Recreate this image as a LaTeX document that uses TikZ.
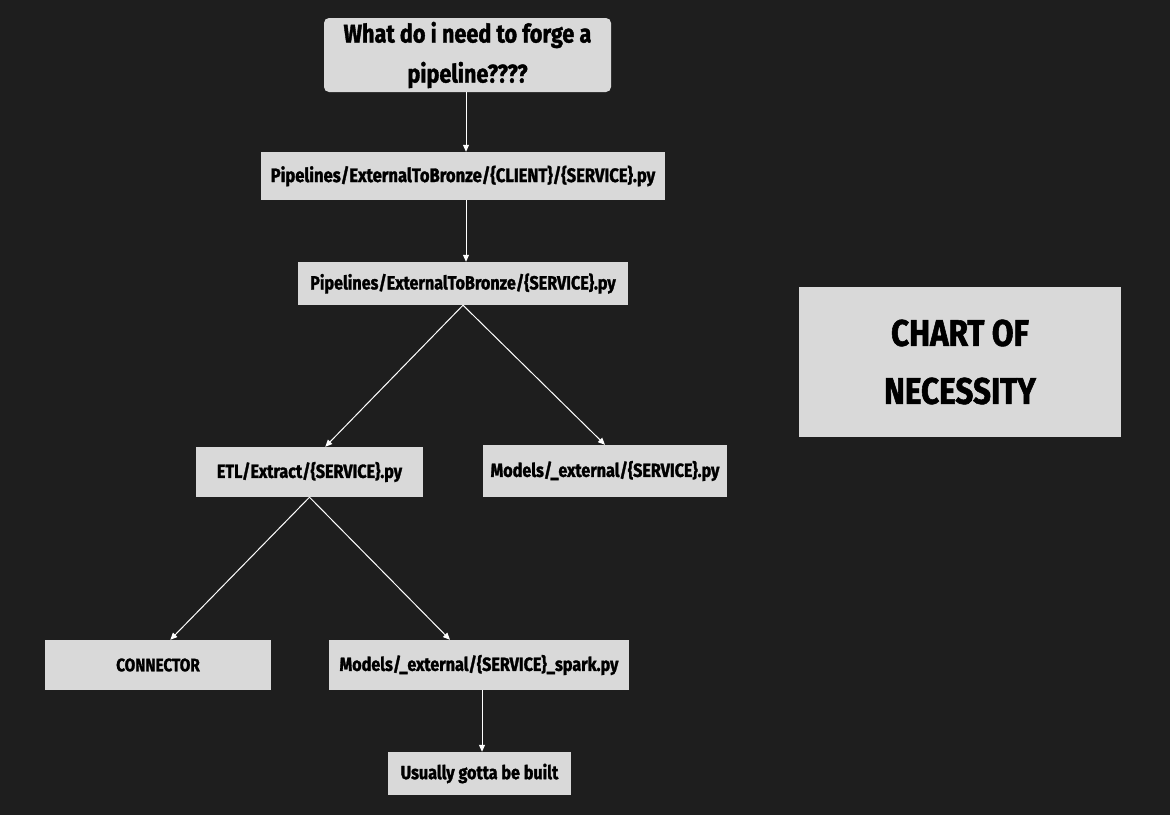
\documentclass[tikz,border=0pt]{standalone}
\usepackage{fontspec}
\setmainfont{Fira Sans}[FakeStretch=0.85, BoldFeatures={FakeBold=1.5}]
\usetikzlibrary{arrows.meta}
\definecolor{bgdark}{HTML}{1E1E1E}
\definecolor{boxgray}{HTML}{D9D9D9}
\tikzset{
  box/.style={fill=boxgray, text=black, font=\bfseries\fontsize{19}{22}\selectfont, inner sep=0pt, align=center},
  link/.style={draw=white, line width=1pt, -{Triangle[length=7pt,width=6pt]}}
}
\begin{document}
\begin{tikzpicture}[x=1pt,y=-1pt]
    % Fondo
    \fill[bgdark] (0,0) rectangle (1170,815);

    % Cajas
    \node (question) at (467.5,55) [box, rounded corners=5pt, minimum width=287, minimum height=74,
        font=\bfseries\fontsize{25.5}{40}\selectfont] {What do i need to forge a\\pipeline????};
    \node (client) at (463,176) [box, minimum width=404, minimum height=48,
        font=\bfseries\fontsize{19.5}{22}\selectfont] {Pipelines/ExternalToBronze/\{CLIENT\}/\{SERVICE\}.py};
    \node (service) at (463,283.5) [box, minimum width=330, minimum height=43] {Pipelines/ExternalToBronze/\{SERVICE\}.py};
    \node (chart) at (960,362) [box, minimum width=322, minimum height=150,
        font=\bfseries\fontsize{37}{58}\selectfont] {CHART OF\\NECESSITY};
    \node (extract) at (309.5,472) [box, minimum width=227, minimum height=50] {ETL/Extract/\{SERVICE\}.py};
    \node (models) at (605,471) [box, minimum width=244, minimum height=52] {Models/\_external/\{SERVICE\}.py};
    \node (connector) at (158,665) [box, minimum width=226, minimum height=50, font=\bfseries\fontsize{18}{20}\selectfont] {CONNECTOR};
    \node (spark) at (479,665) [box, minimum width=300, minimum height=50] {Models/\_external/\{SERVICE\}\_spark.py};
    \node (built) at (479.5,773.5) [box, minimum width=183, minimum height=43] {Usually gotta be built};

    % Flechas
    \draw[link] (question.south -| 466,0) -- (client.north -| 466,0);
    \draw[link] (client.south -| 466,0) -- (service.north -| 466,0);
    \draw[link] (service.south) -- (extract.58);
    \draw[link] (service.south) -- (models.north);
    \draw[link] (extract.south) -- (connector.64);
    \draw[link] (extract.south) -- (spark.139);
    \draw[link] (spark.south -| 482,0) -- (built.north -| 482,0);
\end{tikzpicture}
\end{document}
